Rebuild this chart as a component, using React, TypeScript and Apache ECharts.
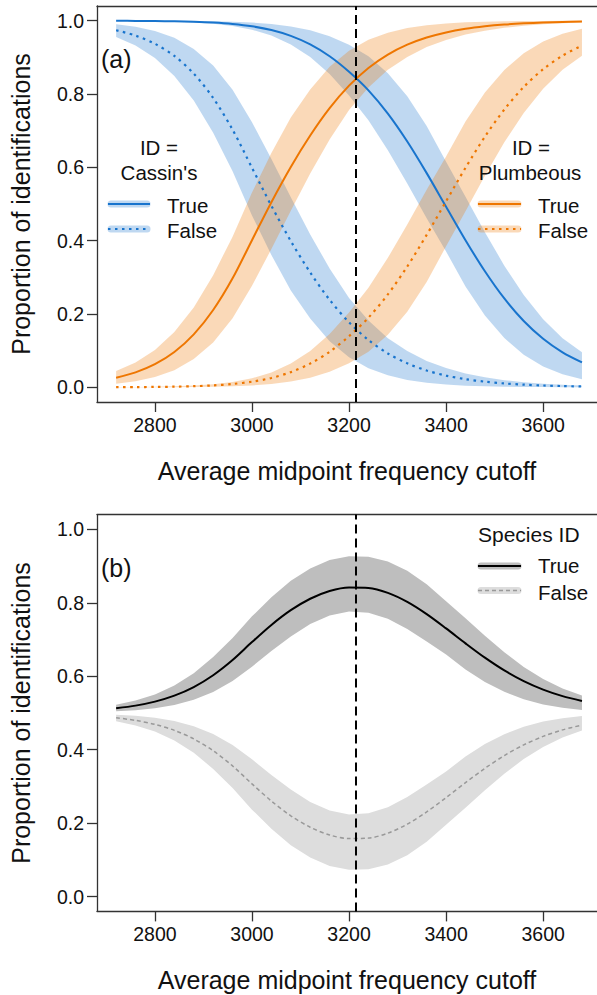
import React, { useEffect, useRef } from "react";
import * as echarts from "echarts";

// ---------- data ----------
const X = [2720, 2760, 2800, 2840, 2880, 2920, 2960, 3000, 3040, 3080, 3120, 3160, 3200, 3240, 3280, 3320, 3360, 3400, 3440, 3480, 3520, 3560, 3600, 3640, 3680];
const xTicks = [2800, 3000, 3200, 3400, 3600];
const yTicks = [0, 0.2, 0.4, 0.6, 0.8, 1.0];
const cutoff = 3214;

// Panel (a) — ID = Cassin's
const cassinTrue = [0.9996, 0.9994, 0.9989, 0.9982, 0.9969, 0.9947, 0.9909, 0.9846, 0.9744, 0.9585, 0.9352, 0.9029, 0.8606, 0.8100, 0.7465, 0.6704, 0.5842, 0.4925, 0.4013, 0.3165, 0.2423, 0.1809, 0.1324, 0.0954, 0.0679];
const cassinTrueUpper = [0.9999, 0.9998, 0.9997, 0.9995, 0.9991, 0.9983, 0.9970, 0.9948, 0.9909, 0.9843, 0.9739, 0.9577, 0.9346, 0.9029, 0.8569, 0.7941, 0.7130, 0.6154, 0.5200, 0.4231, 0.3318, 0.2516, 0.1854, 0.1341, 0.0954];
const cassinTrueLower = [0.9994, 0.9990, 0.9983, 0.9970, 0.9949, 0.9914, 0.9854, 0.9754, 0.9595, 0.9352, 0.9007, 0.8545, 0.7958, 0.7281, 0.6468, 0.5560, 0.4613, 0.3705, 0.2749, 0.1962, 0.1347, 0.0887, 0.0568, 0.0356, 0.0219];
const cassinFalse = [0.9739, 0.9593, 0.9370, 0.9038, 0.8557, 0.7892, 0.7027, 0.5987, 0.4950, 0.3989, 0.3133, 0.2387, 0.1773, 0.1290, 0.0924, 0.0654, 0.0459, 0.0320, 0.0222, 0.0154, 0.0106, 0.0073, 0.0050, 0.0035, 0.0024];
const cassinFalseUpper = [0.9902, 0.9835, 0.9721, 0.9532, 0.9227, 0.8776, 0.8115, 0.7231, 0.6225, 0.5187, 0.4170, 0.3241, 0.2433, 0.1824, 0.1341, 0.0988, 0.0721, 0.0524, 0.0379, 0.0273, 0.0196, 0.0141, 0.0101, 0.0073, 0.0052];
const cassinFalseLower = [0.9553, 0.9322, 0.8985, 0.8494, 0.7824, 0.6942, 0.5890, 0.4688, 0.3612, 0.2641, 0.1877, 0.1256, 0.0820, 0.0522, 0.0328, 0.0201, 0.0123, 0.0075, 0.0046, 0.0028, 0.0017, 0.0010, 0.0006, 0.0004, 0.0002];

// Panel (a) — ID = Plumbeous
const plumbTrue = [0.0261, 0.0407, 0.0630, 0.0962, 0.1443, 0.2108, 0.2973, 0.4013, 0.5050, 0.6011, 0.6867, 0.7613, 0.8227, 0.8710, 0.9076, 0.9346, 0.9541, 0.9680, 0.9778, 0.9846, 0.9894, 0.9927, 0.9950, 0.9965, 0.9976];
const plumbTrueUpper = [0.0447, 0.0678, 0.1015, 0.1506, 0.2176, 0.3058, 0.4110, 0.5312, 0.6388, 0.7359, 0.8123, 0.8744, 0.9180, 0.9478, 0.9672, 0.9799, 0.9877, 0.9925, 0.9954, 0.9972, 0.9983, 0.9990, 0.9994, 0.9996, 0.9998];
const plumbTrueLower = [0.0098, 0.0165, 0.0279, 0.0468, 0.0773, 0.1224, 0.1885, 0.2769, 0.3775, 0.4813, 0.5830, 0.6759, 0.7567, 0.8176, 0.8659, 0.9012, 0.9279, 0.9476, 0.9621, 0.9727, 0.9804, 0.9859, 0.9899, 0.9927, 0.9948];
const plumbFalse = [0.0004, 0.0006, 0.0011, 0.0018, 0.0031, 0.0053, 0.0091, 0.0154, 0.0256, 0.0415, 0.0648, 0.0971, 0.1394, 0.1900, 0.2535, 0.3296, 0.4158, 0.5075, 0.5987, 0.6835, 0.7577, 0.8191, 0.8676, 0.9046, 0.9321];
const plumbFalseUpper = [0.0006, 0.0010, 0.0017, 0.0030, 0.0051, 0.0086, 0.0146, 0.0246, 0.0405, 0.0648, 0.0993, 0.1455, 0.2042, 0.2719, 0.3532, 0.4440, 0.5387, 0.6295, 0.7251, 0.8038, 0.8653, 0.9113, 0.9432, 0.9644, 0.9781];
const plumbFalseLower = [0.0001, 0.0002, 0.0003, 0.0005, 0.0009, 0.0017, 0.0030, 0.0052, 0.0091, 0.0157, 0.0261, 0.0423, 0.0654, 0.0971, 0.1431, 0.2059, 0.2870, 0.3846, 0.4800, 0.5769, 0.6682, 0.7484, 0.8146, 0.8659, 0.9046];

// Panel (b) — Species ID
const speciesTrue = [0.5129, 0.5201, 0.5310, 0.5472, 0.5706, 0.6028, 0.6441, 0.6930, 0.7397, 0.7798, 0.8110, 0.8321, 0.8417, 0.8405, 0.8271, 0.8025, 0.7692, 0.7303, 0.6896, 0.6506, 0.6159, 0.5868, 0.5637, 0.5460, 0.5328];
const speciesTrueUpper = [0.5223, 0.5338, 0.5506, 0.5751, 0.6084, 0.6521, 0.7040, 0.7630, 0.8149, 0.8601, 0.8931, 0.9161, 0.9263, 0.9254, 0.9121, 0.8870, 0.8504, 0.8040, 0.7577, 0.7102, 0.6651, 0.6253, 0.5924, 0.5669, 0.5476];
const speciesTrueLower = [0.5046, 0.5078, 0.5131, 0.5219, 0.5361, 0.5569, 0.5870, 0.6262, 0.6685, 0.7083, 0.7419, 0.7652, 0.7763, 0.7729, 0.7564, 0.7286, 0.6946, 0.6591, 0.6185, 0.5845, 0.5576, 0.5373, 0.5234, 0.5142, 0.5084];
const speciesFalse = [0.4871, 0.4799, 0.4690, 0.4528, 0.4294, 0.3972, 0.3559, 0.3070, 0.2603, 0.2202, 0.1890, 0.1679, 0.1583, 0.1595, 0.1729, 0.1975, 0.2308, 0.2697, 0.3104, 0.3494, 0.3841, 0.4132, 0.4363, 0.4540, 0.4672];
const speciesFalseUpper = [0.4954, 0.4922, 0.4869, 0.4781, 0.4639, 0.4431, 0.4130, 0.3738, 0.3315, 0.2917, 0.2581, 0.2348, 0.2237, 0.2271, 0.2436, 0.2714, 0.3054, 0.3409, 0.3815, 0.4155, 0.4424, 0.4627, 0.4766, 0.4858, 0.4916];
const speciesFalseLower = [0.4777, 0.4662, 0.4494, 0.4249, 0.3916, 0.3479, 0.2960, 0.2370, 0.1851, 0.1399, 0.1069, 0.0839, 0.0737, 0.0746, 0.0879, 0.1130, 0.1496, 0.1960, 0.2423, 0.2898, 0.3349, 0.3747, 0.4076, 0.4331, 0.4524];

// ---------- styling ----------
const FONT = "'Liberation Sans', Arial, Helvetica, sans-serif";
const BLUE = "#1874CD";
const ORANGE = "#EE7600";
const BLUE_BAND = "rgba(24,116,205,0.28)";
const ORANGE_BAND = "rgba(238,118,0,0.28)";
const DARK_BAND = "rgb(190,190,190)";
const LIGHT_BAND = "rgb(221,221,221)";
const AXIS = "#333";
const TEXT = "#111";
const DOT: number[] = [2.5, 4.5];
const XMIN = 2680.6;
const XMAX = 3711;

function bandSeries(axisIdx: number, upper: number[], lower: number[], color: string) {
  return {
    type: "custom",
    xAxisIndex: axisIdx * 2,
    yAxisIndex: axisIdx,
    silent: true,
    z: 1,
    data: [[X[0], lower[0]]],
    encode: { x: 0, y: 1 },
    renderItem: (_params: any, api: any) => {
      const pts: number[][] = [];
      for (let i = 0; i < X.length; i++) pts.push(api.coord([X[i], upper[i]]));
      for (let i = X.length - 1; i >= 0; i--) pts.push(api.coord([X[i], lower[i]]));
      return { type: "polygon", shape: { points: pts }, style: { fill: color } };
    },
  };
}

function lineSeries(axisIdx: number, vals: number[], color: string, width: number, type: any, extra: any = {}) {
  return {
    type: "line",
    xAxisIndex: axisIdx * 2,
    yAxisIndex: axisIdx,
    data: X.map((x, i) => [x, vals[i]]),
    showSymbol: false,
    symbol: "none",
    smooth: 0.3,
    silent: true,
    z: 3,
    lineStyle: { color, width, type },
    ...extra,
  };
}

const cutoffMark = {
  markLine: {
    silent: true,
    symbol: ["none", "none"],
    label: { show: false },
    lineStyle: { color: "#000", width: 2, type: [9, 5] },
    data: [{ xAxis: cutoff }],
    z: 5,
  },
};

function bottomX(gridIndex: number) {
  return {
    type: "value",
    gridIndex,
    min: XMIN,
    max: XMAX,
    name: "Average midpoint frequency cutoff",
    nameLocation: "middle",
    nameGap: 56,
    nameTextStyle: { fontSize: 25, color: TEXT, fontFamily: FONT },
    axisLine: { show: true, onZero: false, lineStyle: { color: AXIS, width: 1.3 } },
    axisTick: { show: true, length: 10, customValues: xTicks, lineStyle: { color: AXIS, width: 1.3 } },
    axisLabel: {
      customValues: xTicks,
      fontSize: 19.5,
      color: TEXT,
      fontFamily: FONT,
      margin: 13,
      formatter: (v: number) => String(Math.round(v)),
    },
    splitLine: { show: false },
  };
}

function topX(gridIndex: number) {
  return {
    type: "value",
    gridIndex,
    position: "top",
    min: XMIN,
    max: XMAX,
    axisLine: { show: true, onZero: false, lineStyle: { color: AXIS, width: 1.3 } },
    axisTick: { show: false },
    axisLabel: { show: false },
    splitLine: { show: false },
  };
}

function leftY(gridIndex: number) {
  return {
    type: "value",
    gridIndex,
    min: -0.04,
    max: 1.04,
    name: "Proportion of identifications",
    nameLocation: "middle",
    nameGap: 64,
    nameRotate: 90,
    nameTextStyle: { fontSize: 25, color: TEXT, fontFamily: FONT },
    axisLine: { show: true, onZero: false, lineStyle: { color: AXIS, width: 1.3 } },
    axisTick: { show: true, length: 10, customValues: yTicks, lineStyle: { color: AXIS, width: 1.3 } },
    axisLabel: {
      customValues: yTicks,
      fontSize: 19.5,
      color: TEXT,
      fontFamily: FONT,
      margin: 13,
      formatter: (v: number) => v.toFixed(1),
    },
    splitLine: { show: false },
  };
}

function txt(text: string, x: number, y: number, size: number, align = "left") {
  return {
    type: "text",
    x,
    y,
    z: 10,
    style: {
      text,
      fontSize: size,
      fontFamily: FONT,
      fill: TEXT,
      align,
      textAlign: align,
      verticalAlign: "middle",
      textVerticalAlign: "middle",
    },
  };
}

function legendKey(x1: number, x2: number, y: number, band: string, color: string, width: number, dash: any) {
  return [
    {
      type: "line",
      z: 10,
      shape: { x1: x1 + 3, y1: y, x2: x2 - 3, y2: y },
      style: { stroke: band, lineWidth: 7, lineCap: "round" },
    },
    {
      type: "line",
      z: 11,
      shape: { x1, y1: y, x2, y2: y },
      style: { stroke: color, lineWidth: width, lineDash: dash, lineCap: "butt" },
    },
  ];
}

export default function App() {
  const ref = useRef<HTMLDivElement>(null);

  useEffect(() => {
    if (!ref.current) return;
    const chart = echarts.init(ref.current, undefined, { renderer: "svg" });

    const graphics: any[] = [
      txt("(a)", 101, 59, 25),
      txt("(b)", 101, 568, 25),
      // legend (a) left
      txt("ID =", 159, 147, 20.5, "center"),
      txt("Cassin's", 159, 172, 20.5, "center"),
      ...legendKey(108, 150, 204, BLUE_BAND, BLUE, 2, null),
      ...legendKey(108, 150, 229, BLUE_BAND, BLUE, 2.2, DOT),
      txt("True", 167, 205, 20.5),
      txt("False", 167, 230.5, 20.5),
      // legend (a) right
      txt("ID =", 531, 147, 20.5, "center"),
      txt("Plumbeous", 530, 172, 20.5, "center"),
      ...legendKey(478, 521, 204, ORANGE_BAND, ORANGE, 2, null),
      ...legendKey(478, 521, 229, ORANGE_BAND, ORANGE, 2.2, DOT),
      txt("True", 538, 205, 20.5),
      txt("False", 538, 230.5, 20.5),
      // legend (b)
      txt("Species ID", 478, 534, 21),
      ...legendKey(478, 521, 566, DARK_BAND, "#000", 2.2, null),
      ...legendKey(478, 521, 590.5, LIGHT_BAND, "#999", 1.5, [4, 3]),
      txt("True", 538, 565.5, 20.5),
      txt("False", 538, 592, 20.5),
    ];

    chart.setOption({
      animation: false,
      backgroundColor: "#fff",
      textStyle: { fontFamily: FONT },
      grid: [
        { left: 90, top: 6, width: 507, height: 396, containLabel: false },
        { left: 90, top: 514.6, width: 507, height: 396.8, containLabel: false },
      ],
      xAxis: [bottomX(0), topX(0), bottomX(1), topX(1)],
      yAxis: [leftY(0), leftY(1)],
      graphic: { elements: graphics },
      series: [
        // panel (a) bands
        bandSeries(0, cassinTrueUpper, cassinTrueLower, BLUE_BAND),
        bandSeries(0, cassinFalseUpper, cassinFalseLower, BLUE_BAND),
        bandSeries(0, plumbTrueUpper, plumbTrueLower, ORANGE_BAND),
        bandSeries(0, plumbFalseUpper, plumbFalseLower, ORANGE_BAND),
        // panel (a) lines
        lineSeries(0, cassinTrue, BLUE, 2, "solid", cutoffMark),
        lineSeries(0, cassinFalse, BLUE, 2.2, DOT),
        lineSeries(0, plumbTrue, ORANGE, 2, "solid"),
        lineSeries(0, plumbFalse, ORANGE, 2.2, DOT),
        // panel (b)
        bandSeries(1, speciesTrueUpper, speciesTrueLower, DARK_BAND),
        bandSeries(1, speciesFalseUpper, speciesFalseLower, LIGHT_BAND),
        lineSeries(1, speciesTrue, "#000", 2, "solid", cutoffMark),
        lineSeries(1, speciesFalse, "#999", 1.5, [4, 3]),
      ],
    });

    return () => chart.dispose();
  }, []);

  return (
    <div
      ref={ref}
      style={{ position: "absolute", left: 0, top: 0, width: 597, height: 995, background: "#fff" }}
    />
  );
}
